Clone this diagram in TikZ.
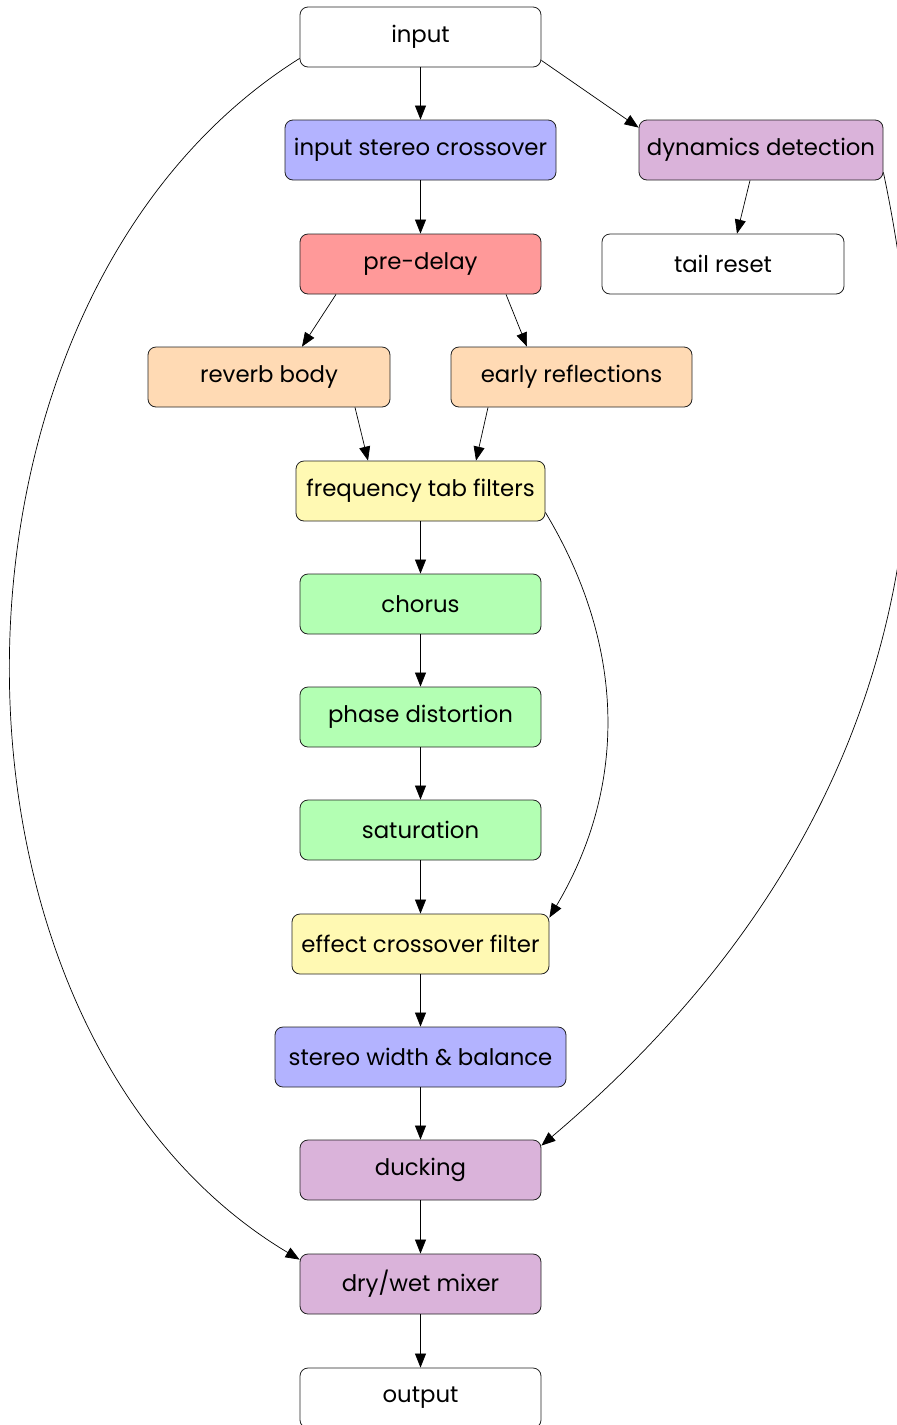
\documentclass[tikz,border=0pt]{standalone}
\usepackage{fontspec}
\setmainfont{Poppins}
\usetikzlibrary{arrows.meta}
\definecolor{cblue}{HTML}{B3B3FF}
\definecolor{cpurple}{HTML}{DAB3DA}
\definecolor{cred}{HTML}{FF9999}
\definecolor{cpeach}{HTML}{FFDAB4}
\definecolor{cyellow}{HTML}{FFF9B3}
\definecolor{cgreen}{HTML}{B3FFB3}
\definecolor{cline}{HTML}{222222}
\begin{document}
\begin{tikzpicture}[x=1pt,y=-1pt,
  box/.style={draw=cline, line width=0.8pt, rounded corners=8pt, minimum width=241pt,
    minimum height=60pt, inner sep=0pt, font=\fontsize{22.8}{27}\selectfont, fill=white},
  arr/.style={-{Triangle[length=14pt,width=11pt]}, line width=0.7pt, draw=black}]
\useasboundingbox (0,0) rectangle (897,1425);
\clip (0,0) rectangle (897,1425);
\node[box] (in) at (420.5,37) {input};
\node[box, fill=cblue, minimum width=271pt] (isc) at (420.5,150) {input stereo crossover};
\node[box, fill=cpurple, minimum width=244pt] (dd) at (761,150) {dynamics detection};
\node[box, fill=cred] (pd) at (420.5,264) {pre-delay};
\node[box, minimum width=242pt] (tr) at (723,264) {tail reset};
\node[box, fill=cpeach, minimum width=242pt] (rb) at (269,377) {reverb body};
\node[box, fill=cpeach] (er) at (571.5,377) {early reflections};
\node[box, fill=cyellow, minimum width=249pt] (ftf) at (420.5,491) {frequency tab filters};
\node[box, fill=cgreen] (ch) at (420.5,604) {chorus};
\node[box, fill=cgreen] (phd) at (420.5,717) {phase distortion};
\node[box, fill=cgreen] (sat) at (420.5,830) {saturation};
\node[box, fill=cyellow, minimum width=257pt] (ecf) at (420.5,944) {effect crossover filter};
\node[box, fill=cblue, minimum width=291pt] (swb) at (420.5,1057) {stereo width \& balance};
\node[box, fill=cpurple] (duck) at (420.5,1170) {ducking};
\node[box, fill=cpurple] (dm) at (420.5,1284) {dry/wet mixer};
\node[box] (out) at (420.5,1398) {output};

\draw[arr] (in) -- (isc);
\draw[arr] ([yshift=7pt]in.south east) -- ([yshift=-8pt]dd.north west);
\draw[arr] ([yshift=9pt]in.south west) .. controls +(-385,242) and +(-385,-230) .. ([yshift=-6pt]dm.north west);
\draw[arr] (isc) -- (pd);
\draw[arr] ([xshift=-11pt]dd.south) -- ([xshift=14pt]tr.north);
\draw[arr] ([yshift=8pt]dd.south east) .. controls +(48,228) and +(420,-356) .. ([yshift=-6pt]duck.north east);
\draw[arr] ([xshift=-84.5pt]pd.south) -- ([xshift=33pt]rb.north);
\draw[arr] ([xshift=85.5pt]pd.south) -- ([xshift=-44.5pt]er.north);
\draw[arr] ([xshift=86pt]rb.south) -- ([xshift=-52.5pt]ftf.north);
\draw[arr] ([xshift=-83.5pt]er.south) -- ([xshift=55.5pt]ftf.north);
\draw[arr] (ftf) -- (ch);
\draw[arr] ([yshift=9pt]ftf.south east) .. controls +(83,138) and +(76,-128) .. ([yshift=-4pt]ecf.north east);
\draw[arr] (ch) -- (phd);
\draw[arr] (phd) -- (sat);
\draw[arr] (sat) -- (ecf);
\draw[arr] (ecf) -- (swb);
\draw[arr] (swb) -- (duck);
\draw[arr] (duck) -- (dm);
\draw[arr] (dm) -- (out);
\end{tikzpicture}
\end{document}
